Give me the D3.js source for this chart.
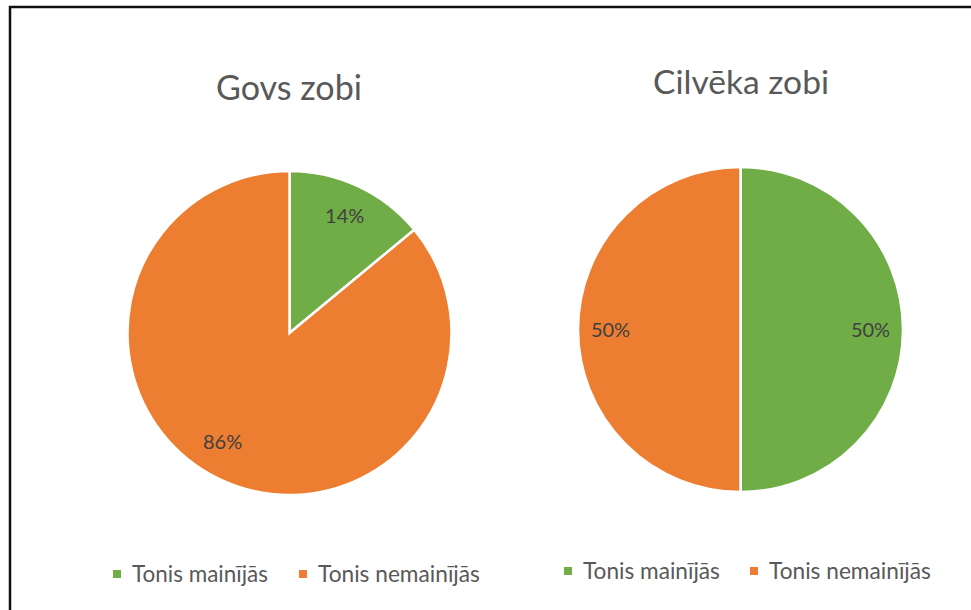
<!doctype html>
<html>
<head>
  <meta charset="utf-8">
  <script src="https://cdnjs.cloudflare.com/ajax/libs/d3/7.8.5/d3.min.js"></script>
  <style>
    body { margin: 0; background: #fff; }
    text { font-family: Lato, "Open Sans", sans-serif; }
  </style>
</head>
<body>
  <svg id="chart" width="971" height="610"></svg>
  <script>
    var categories = ["Tonis mainījās", "Tonis nemainījās"];
    var titles = ["Govs zobi", "Cilvēka zobi"];
    var govsValues = [14, 86];
    var cilvekaValues = [50, 50];
    var colors = ["#70AD47", "#ED7D31"];

    var svg = d3.select("#chart");

    // frame (only top and left edges visible in the crop)
    svg.append("rect")
      .attr("x", 10).attr("y", 7).attr("width", 1000).attr("height", 700)
      .attr("fill", "none").attr("stroke", "#111").attr("stroke-width", 2.5);

    // shrink/grow font so a text spans a given width
    function fitWidth(sel, w) {
      var fs = parseFloat(sel.attr("font-size"));
      var len = sel.node().getComputedTextLength();
      sel.attr("font-size", (fs * w / len).toFixed(2));
    }

    var charts = [
      {title: titles[0], values: govsValues, cx: 289.5, cy: 333, r: 162,
       titleX: 289, titleY: 100, titleW: 146,
       legendY: 574, legendX: [113, 299], legendW: [136, 162]},
      {title: titles[1], values: cilvekaValues, cx: 740.5, cy: 329.5, r: 162.5,
       titleX: 741, titleY: 94, titleW: 176,
       legendY: 571, legendX: [564, 750], legendW: [137, 162]}
    ];

    var pie = d3.pie().sort(null).value(function(d) { return d; });

    charts.forEach(function(c) {
      var g = svg.append("g").attr("transform", "translate(" + c.cx + "," + c.cy + ")");
      var arc = d3.arc().innerRadius(0).outerRadius(c.r);
      var labelArc = d3.arc().innerRadius(c.r * 0.8).outerRadius(c.r * 0.8);
      var total = d3.sum(c.values);
      var arcs = pie(c.values);

      g.selectAll("path").data(arcs).enter().append("path")
        .attr("d", arc)
        .attr("fill", function(d, i) { return colors[i]; })
        .attr("stroke", "#fff").attr("stroke-width", 2.5);

      g.selectAll("text.lbl").data(arcs).enter().append("text")
        .attr("class", "lbl")
        .attr("transform", function(d) {
          var p = labelArc.centroid(d);
          // big slices: Excel pulls the label a little further round
          if (d.endAngle - d.startAngle > Math.PI * 1.2) {
            var a = (d.startAngle + d.endAngle) / 2 + 0.11;
            var rr = c.r * 0.79;
            p = [Math.sin(a) * rr, -Math.cos(a) * rr];
          }
          return "translate(" + p[0] + "," + p[1] + ")";
        })
        .attr("text-anchor", "middle").attr("dy", "0.35em")
        .attr("font-size", 20).attr("fill", "#404040")
        .text(function(d) { return Math.round(d.value / total * 100) + "%"; });

      var t = svg.append("text")
        .attr("x", c.titleX).attr("y", c.titleY)
        .attr("text-anchor", "middle").attr("font-size", 32).attr("fill", "#595959")
        .text(c.title);
      fitWidth(t, c.titleW);

      categories.forEach(function(cat, i) {
        svg.append("rect")
          .attr("x", c.legendX[i]).attr("y", c.legendY - 4)
          .attr("width", 8).attr("height", 8)
          .attr("fill", colors[i]);
        var lt = svg.append("text")
          .attr("x", c.legendX[i] + 19).attr("y", c.legendY).attr("dy", "0.35em")
          .attr("font-size", 17).attr("fill", "#595959")
          .text(cat);
        fitWidth(lt, c.legendW[i]);
      });
    });
  </script>
</body>
</html>
